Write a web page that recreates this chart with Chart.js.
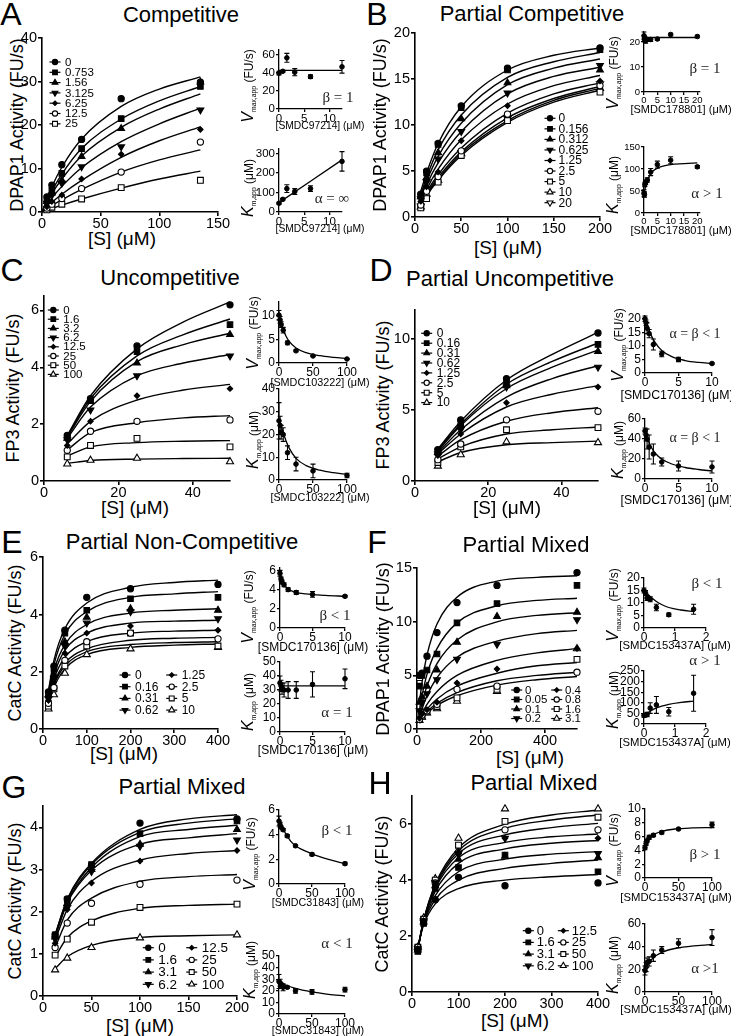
<!DOCTYPE html>
<html>
<head>
<meta charset="utf-8">
<script src="https://cdn.jsdelivr.net/npm/chart.js@4.4.0/dist/chart.umd.min.js"></script>
<style>
  body { margin: 0; background: #fff; }
  #fig { position: relative; width: 731px; height: 1036px; overflow: hidden; font-family: "Liberation Sans", Arial, sans-serif; color: #000; }
  .t { position: absolute; white-space: nowrap; transform: translate(-50%, -50%); line-height: 1; }
  .rot { transform: translate(-50%, -50%) rotate(-90deg); }
  .gk { font-family: "Liberation Serif", "Times New Roman", serif; color: #222; }
  sub { font-size: 6.8px; vertical-align: baseline; position: relative; top: 3px; }
  canvas { position: absolute; }
</style>
</head>
<body>
<div id="fig"></div>
<script>
// ---- data ----
// A: Competitive (DPAP1 / SMDC97214)
const A_S = [4.2, 8.4, 16.9, 33.75, 67.5, 135];
const A_INH = [0, 0.753, 1.56, 3.125, 6.25, 12.5, 25];
const A_Y = [
  [3.5, 6.2, 10.9, 16.7, 26.1, 29.9],
  [2.8, 5.0, 8.9, 14.6, 21.5, 28.9],
  [2.4, 4.4, 7.3, 12.8, 19.2, 29.9],
  [2.0, 3.9, 6.6, 10.4, 15.0, 23.5],
  [1.2, 2.4, 3.9, 7.6, 13.3, 19.0],
  [0.9, 1.8, 3.1, 5.4, 9.2, 16.1],
  [0.5, 1.1, 1.8, 3.0, 5.6, 7.3]
];
const A_FIT_S = [0, 8.4, 16.9, 33.75, 67.5, 100, 135];
const A_FIT = [
  [0, 5.8, 10.3, 16.8, 24.3, 28.3, 31.1],
  [0, 4.8, 8.7, 14.6, 21.4, 25.6, 28.9],
  [0, 4.2, 7.6, 12.9, 19.5, 23.7, 27.2],
  [0, 3.2, 5.9, 10.2, 16.2, 20.3, 23.9],
  [0, 2.2, 4.1, 7.3, 12.6, 16.4, 19.6],
  [0, 1.5, 2.8, 5.2, 9.2, 12.0, 14.3],
  [0, 0.8, 1.6, 3.0, 5.5, 7.6, 9.4]
];
const A_VMAX = [40, 42, 57, 41, 36, 47];
const A_VMAX_ERR = [2, 1, 5, 4, 2, 7];
const A_VMAX_FIT_X = [0, 12.5];
const A_VMAX_FIT = [43, 43];
const A_KM = [45, 65, 120, 105, 120, 260];
const A_KM_ERR = [5, 5, 20, 15, 15, 50];
const A_KM_FIT_X = [0, 12.5];
const A_KM_FIT = [48, 268];

// B: Partial Competitive (DPAP1 / SMDC178801)
const B_S = [6.25, 12.5, 25, 50, 100, 200];
const B_INH = [0, 0.156, 0.312, 0.625, 1.25, 2.5, 5, 10, 20];
const B_Y = [
  [2.5, 5.0, 8.0, 12.1, 16.2, 18.4],
  [2.3, 4.8, 7.9, 11.9, 16.0, 18.2],
  [2.2, 4.3, 7.0, 10.7, 14.6, 16.0],
  [2.0, 3.8, 6.3, 9.3, 13.5, 16.5],
  [1.7, 3.3, 4.9, 8.3, 12.1, 14.8],
  [1.3, 2.8, 4.4, 7.2, 11.2, 14.3],
  [1.0, 2.0, 3.8, 6.7, 10.5, 13.6],
  [1.1, 2.5, 4.0, 6.9, 10.8, 14.0],
  [1.2, 2.7, 4.2, 7.0, 10.7, 14.5]
];
const B_FIT_S = [6.25, 12.5, 25, 50, 100, 150, 200];
const B_FIT = [
  [2.8, 4.8, 8.0, 12.0, 16.0, 17.6, 18.4],
  [2.4, 4.3, 7.3, 11.1, 15.2, 16.9, 17.9],
  [2.2, 3.9, 6.6, 10.2, 14.4, 16.2, 17.2],
  [1.9, 3.5, 5.9, 9.3, 13.4, 15.3, 16.3],
  [1.6, 3.0, 5.2, 8.4, 12.3, 14.3, 15.4],
  [1.4, 2.7, 4.6, 7.5, 11.3, 13.4, 14.6],
  [1.3, 2.5, 4.3, 7.1, 10.8, 12.9, 14.2],
  [1.25, 2.4, 4.1, 6.9, 10.5, 12.7, 14.0],
  [1.2, 2.3, 4.0, 6.7, 10.3, 12.5, 13.8]
];
const B_VMAX = [22.5, 21.5, 21, 20.5, 21, 21, 21.2, 23, 22.2];
const B_VMAX_ERR = [1.5, 1, 1, 1, 0.8, 0.8, 0.5, 0.5, 0.5];
const B_VMAX_FIT_X = [0, 20];
const B_VMAX_FIT = [21.8, 21.8];
const B_KM = [45, 42, 65, 70, 75, 93, 110, 120, 105];
const B_KM_ERR = [8, 6, 5, 5, 5, 8, 8, 8, 3];
const B_KM_FIT_X = [0, 0.5, 1, 2, 3, 5, 7.5, 10, 15, 20];
const B_KM_FIT = [42, 58, 68, 84, 93, 102, 107, 110, 112, 114];

// C: Uncompetitive (FP3 / SMDC103222)
const C_S = [6.25, 12.5, 25, 50];
const C_INH = [0, 1.6, 3.2, 6.2, 12.5, 25, 50, 100];
const C_Y = [
  [1.6, 2.9, 4.75, 6.2],
  [1.55, 2.85, 4.55, 5.5],
  [1.5, 2.8, 4.15, 5.15],
  [1.45, 2.5, 3.7, 4.4],
  [1.25, 2.1, 3.0, 3.25],
  [1.08, 1.75, 2.1, 2.15],
  [0.85, 1.25, 1.5, 1.2],
  [0.6, 0.73, 0.8, 0.68]
];
const C_FIT_S = [6.25, 12.5, 25, 37.5, 50];
const C_FIT = [
  [1.6, 3.0, 4.65, 5.6, 6.3],
  [1.58, 2.9, 4.4, 5.15, 5.7],
  [1.55, 2.8, 4.2, 4.8, 5.2],
  [1.5, 2.6, 3.7, 4.15, 4.45],
  [1.3, 2.1, 2.85, 3.2, 3.4],
  [1.1, 1.7, 2.05, 2.22, 2.3],
  [0.88, 1.2, 1.35, 1.4, 1.42],
  [0.62, 0.72, 0.77, 0.79, 0.8]
];
const C_VMAX = [10.2, 9.2, 8.2, 7.0, 4.3, 2.6, 1.5, 0.85];
const C_VMAX_ERR = [1, 0.7, 0.6, 0.6, 0.4, 0.2, 0.1, 0.1];
const C_VMAX_FIT_X = [0, 3, 6, 10, 15, 25, 40, 60, 80, 100];
const C_VMAX_FIT = [10.4, 8.6, 7.2, 5.8, 4.6, 3.2, 2.2, 1.55, 1.2, 0.95];
const C_KM = [26, 24, 21, 20, 12, 7, 4, 2];
const C_KM_ERR = [8, 4, 3, 3, 3, 3, 3, 1];
const C_KM_FIT_X = [0, 3, 6, 10, 15, 25, 40, 60, 80, 100];
const C_KM_FIT = [27, 24, 21, 17.5, 14, 9.5, 6.3, 4.3, 3.2, 2.5];

// D: Partial Uncompetitive (FP3 / SMDC170136)
const D_S = [6.25, 12.5, 25, 50];
const D_INH = [0, 0.16, 0.31, 0.62, 1.25, 2.5, 5, 10];
const D_Y = [
  [2.2, 4.3, 7.2, 10.4],
  [2.1, 4.1, 6.9, 9.6],
  [2.0, 3.9, 6.7, 9.1],
  [1.9, 3.6, 6.6, 8.0],
  [1.8, 3.3, 5.5, 6.6],
  [1.5, 2.6, 4.3, 4.9],
  [1.3, 2.4, 3.6, 3.75],
  [1.05, 1.85, 2.75, 2.7]
];
const D_FIT_S = [6.25, 12.5, 25, 37.5, 50];
const D_FIT = [
  [2.25, 4.2, 7.1, 8.9, 10.45],
  [2.2, 4.0, 6.8, 8.4, 9.7],
  [2.1, 3.9, 6.5, 8.0, 9.2],
  [2.0, 3.6, 5.9, 7.2, 8.1],
  [1.9, 3.3, 5.2, 6.1, 6.7],
  [1.75, 2.9, 4.2, 4.8, 5.15],
  [1.55, 2.4, 3.3, 3.6, 3.8],
  [1.35, 2.0, 2.55, 2.7, 2.8]
];
const D_VMAX = [20, 18.5, 16.5, 14.5, 10.5, 7, 5, 3.5];
const D_VMAX_ERR = [1, 1, 2, 1.5, 2, 1, 0.8, 0.3];
const D_VMAX_FIT_X = [0, 0.5, 1, 1.5, 2.5, 4, 6, 8, 10];
const D_VMAX_FIT = [20.5, 16.5, 13.5, 11.3, 8.3, 6.0, 4.6, 3.9, 3.5];
const D_KM = [48, 44, 40, 32, 25, 17, 13, 12];
const D_KM_ERR = [3, 6, 10, 12, 10, 4, 5, 6];
const D_KM_FIT_X = [0, 0.5, 1, 1.5, 2.5, 4, 6, 8, 10];
const D_KM_FIT = [47, 38, 31, 26, 20, 15, 11.5, 9.5, 8];

// E: Partial Non-Competitive (CatC / SMDC170136)
const E_S = [12.5, 25, 50, 100, 200, 400];
const E_INH = [0, 0.16, 0.31, 0.62, 1.25, 2.5, 5, 10];
const E_Y = [
  [1.3, 2.2, 3.45, 4.6, 4.9, 5.05],
  [1.25, 2.1, 3.35, 4.15, 4.55, 4.6],
  [1.2, 1.9, 3.05, 3.9, 4.2, 4.15],
  [1.05, 1.75, 2.9, 3.7, 4.1, 3.85],
  [1.0, 1.65, 2.65, 3.35, 3.6, 3.45],
  [0.9, 1.45, 2.4, 3.05, 3.35, 3.15],
  [0.8, 1.4, 2.2, 2.9, 3.35, 2.9],
  [0.7, 1.2, 1.95, 2.6, 2.8, 2.85]
];
const E_FIT_S = [12.5, 25, 50, 100, 200, 300, 400];
const E_FIT = [
  [1.35, 2.4, 3.5, 4.4, 4.95, 5.12, 5.2],
  [1.3, 2.25, 3.3, 4.1, 4.6, 4.72, 4.8],
  [1.2, 2.05, 2.95, 3.65, 4.05, 4.15, 4.2],
  [1.1, 1.9, 2.75, 3.35, 3.7, 3.77, 3.8],
  [1.05, 1.75, 2.5, 3.05, 3.35, 3.42, 3.45],
  [0.95, 1.6, 2.3, 2.8, 3.1, 3.17, 3.2],
  [0.9, 1.55, 2.2, 2.7, 2.95, 3.02, 3.05],
  [0.85, 1.45, 2.1, 2.6, 2.85, 2.93, 2.97]
];
const E_VMAX = [5.7, 5.1, 4.8, 4.5, 4.0, 3.7, 3.5, 3.3];
const E_VMAX_ERR = [0.3, 0.2, 0.2, 0.2, 0.2, 0.2, 0.3, 0.1];
const E_VMAX_FIT_X = [0, 0.5, 1, 2, 4, 7, 10];
const E_VMAX_FIT = [5.8, 4.7, 4.2, 3.8, 3.55, 3.4, 3.3];
const E_KM = [35, 33, 31, 30, 30, 30, 34, 38];
const E_KM_ERR = [5, 4, 4, 5, 6, 6, 9, 7];
const E_KM_FIT_X = [0, 10];
const E_KM_FIT = [33, 33];

// F: Partial Mixed (DPAP1 / SMDC153437A)
const F_S = [7.8, 15.6, 31.25, 62.5, 125, 250, 500];
const F_INH = [0, 0.05, 0.1, 0.2, 0.4, 0.8, 1.6, 3.1];
const F_Y = [
  [5.0, 5.2, 6.8, 9.0, 11.8, 13.4, 14.6],
  [4.0, 5.0, 5.5, 7.0, 9.9, 11.7, 13.4],
  [2.5, 3.0, 4.0, 5.5, 8.1, 10.5, 10.9],
  [1.7, 2.5, 3.3, 4.6, 6.5, 7.9, 10.2],
  [1.0, 1.4, 1.8, 2.5, 4.3, 5.6, 7.5],
  [0.9, 1.3, 1.7, 2.3, 3.7, 4.0, 5.3],
  [4.8, 1.2, 1.6, 2.1, 2.9, 3.7, 6.5],
  [0.8, 1.1, 1.5, 1.9, 2.6, 3.5, 7.5]
];
const F_FIT_S = [7.8, 15.6, 31.25, 62.5, 125, 250, 375, 500];
const F_FIT = [
  [2.5, 4.3, 6.9, 9.8, 12.3, 13.8, 14.15, 14.3],
  [1.8, 3.1, 5.1, 7.5, 9.9, 11.5, 12.0, 12.2],
  [1.4, 2.4, 4.0, 6.1, 8.3, 10.0, 10.6, 10.85],
  [1.05, 1.85, 3.1, 4.8, 6.7, 8.2, 8.9, 9.2],
  [0.8, 1.4, 2.3, 3.5, 5.0, 6.4, 7.1, 7.5],
  [0.65, 1.15, 1.85, 2.8, 4.0, 5.2, 5.9, 6.2],
  [0.58, 1.0, 1.6, 2.4, 3.4, 4.5, 5.0, 5.3],
  [0.52, 0.9, 1.45, 2.2, 3.1, 4.1, 4.6, 4.9]
];
const F_VMAX = [15, 14, 12, 11.5, 8.2, 5.3, 7.5];
const F_VMAX_ERR = [1, 1, 1, 1, 1.3, 0.7, 2];
const F_VMAX_FIT_X = [0, 0.1, 0.2, 0.4, 0.6, 0.8, 1.2, 1.6];
const F_VMAX_FIT = [15.2, 13.8, 12.6, 10.6, 9.2, 8.2, 7.2, 6.6];
const F_KM = [40, 42, 45, 75, 90, 58, 145];
const F_KM_ERR = [8, 5, 10, 25, 40, 20, 85];
const F_KM_FIT_X = [0, 0.1, 0.2, 0.4, 0.8, 1.2, 1.6];
const F_KM_FIT = [38, 50, 60, 76, 93, 102, 108];

// G: Partial Mixed (CatC / SMDC31843)
const G_S = [12.5, 25, 50, 100, 200];
const G_INH = [0, 1.6, 3.1, 6.2, 12.5, 25, 50, 100];
const G_Y = [
  [1.45, 2.3, 3.1, 4.1, 4.2],
  [1.45, 2.28, 3.12, 3.85, 4.15],
  [1.4, 2.2, 3.0, 3.6, 3.95],
  [1.35, 2.1, 2.95, 3.55, 3.7],
  [1.25, 2.05, 2.68, 3.2, 3.45],
  [1.15, 1.73, 2.2, 2.65, 2.75],
  [0.97, 1.35, 1.75, 2.1, 2.18],
  [0.62, 0.9, 1.15, 1.38, 1.45]
];
const G_FIT_S = [12.5, 25, 50, 100, 150, 200];
const G_FIT = [
  [1.45, 2.3, 3.15, 3.95, 4.2, 4.3],
  [1.45, 2.28, 3.12, 3.88, 4.1, 4.2],
  [1.42, 2.23, 3.05, 3.78, 3.95, 4.05],
  [1.4, 2.2, 2.98, 3.6, 3.75, 3.85],
  [1.33, 2.05, 2.72, 3.22, 3.38, 3.45],
  [1.15, 1.8, 2.32, 2.72, 2.83, 2.88],
  [0.93, 1.38, 1.78, 2.08, 2.15, 2.18],
  [0.65, 0.93, 1.2, 1.39, 1.43, 1.45]
];
const G_VMAX = [5.1, 4.8, 4.6, 4.4, 3.9, 3.1, 2.4, 1.65];
const G_VMAX_ERR = [0.4, 0.2, 0.1, 0.1, 0.1, 0.1, 0.1, 0.1];
const G_VMAX_FIT_X = [0, 3, 7, 12.5, 18, 25, 50, 75, 100];
const G_VMAX_FIT = [5.1, 4.7, 4.35, 3.9, 3.45, 3.1, 2.45, 2.0, 1.65];
const G_KM = [28, 27, 25, 23, 23, 20, 19, 21];
const G_KM_ERR = [6, 3, 2, 3, 1, 2, 2, 2];
const G_KM_FIT_X = [0, 10, 25, 50, 75, 100];
const G_KM_FIT = [28, 25, 22, 19, 17, 15.5];

// H: Partial Mixed (CatC / SMDC153437A)
const H_S = [12.5, 25, 50, 100, 200, 400];
const H_INH = [0, 1.6, 3.1, 6.2, 12.5, 25, 50, 100];
const H_Y = [
  [1.5, 2.5, 3.3, 4.1, 3.8, 3.9],
  [1.45, 2.45, 3.7, 4.45, 4.9, 4.3],
  [1.5, 2.5, 3.8, 4.75, 4.85, 4.8],
  [1.55, 2.55, 3.9, 4.95, 5.5, 4.95],
  [1.55, 2.55, 3.85, 5.0, 5.5, 5.5],
  [1.6, 2.6, 3.9, 5.0, 5.8, 5.8],
  [1.6, 2.6, 4.0, 5.25, 6.1, 6.25],
  [1.6, 2.65, 4.05, 5.5, 6.55, 6.55]
];
const H_FIT_S = [12.5, 25, 50, 100, 200, 300, 400];
const H_FIT = [
  [1.6, 2.4, 3.15, 3.7, 4.0, 4.12, 4.2],
  [1.6, 2.45, 3.3, 4.0, 4.42, 4.6, 4.72],
  [1.58, 2.5, 3.45, 4.3, 4.75, 4.93, 5.02],
  [1.57, 2.55, 3.6, 4.6, 5.12, 5.32, 5.42],
  [1.55, 2.55, 3.7, 4.8, 5.35, 5.55, 5.65],
  [1.53, 2.55, 3.75, 4.95, 5.62, 5.88, 6.03],
  [1.5, 2.55, 3.8, 5.05, 5.85, 6.15, 6.33],
  [1.48, 2.55, 3.85, 5.15, 6.0, 6.33, 6.5]
];
const H_VMAX = [4.4, 5.0, 5.4, 5.9, 6.2, 6.6, 7.1, 7.7];
const H_VMAX_ERR = [0.3, 0.3, 0.2, 0.3, 0.2, 0.2, 0.1, 0.4];
const H_VMAX_FIT_X = [0, 3, 8, 15, 25, 45, 70, 100];
const H_VMAX_FIT = [4.4, 5.4, 6.0, 6.4, 6.75, 7.1, 7.25, 7.3];
const H_KM = [19, 22, 26, 27, 32, 37, 43, 48];
const H_KM_ERR = [4, 4, 4, 4, 5, 3, 4, 7];
const H_KM_FIT_X = [0, 5, 12, 25, 50, 100];
const H_KM_FIT = [19, 25, 30, 35, 39, 42];

// ---- drawing ----
const FONT = '"Liberation Sans", Arial, Helvetica, sans-serif';
Chart.defaults.font.family = FONT;
Chart.defaults.color = '#000';

// Prism-style symbol order: filled ones first, then open ones
const MARKERS = [
  { style: 'circle', fill: true, r: 3.1 },
  { style: 'rect', fill: true, r: 3.9 },
  { style: 'triangle', fill: true, r: 3.9 },
  { style: 'triangle', fill: true, r: 3.9, rot: 180 },
  { style: 'rectRot', fill: true, r: 2.7 },
  { style: 'circle', fill: false, r: 3.1 },
  { style: 'rect', fill: false, r: 4.1 },
  { style: 'triangle', fill: false, r: 4.1 },
  { style: 'triangle', fill: false, r: 4.1, rot: 180 },
];

const fig = document.getElementById('fig');

function label(x, y, html, size, cls) {
  const d = document.createElement('div');
  d.className = 't' + (cls ? ' ' + cls : '');
  d.style.left = x + 'px';
  d.style.top = y + 'px';
  d.style.fontSize = size + 'px';
  d.innerHTML = html;
  fig.appendChild(d);
}

function drawMarker(ctx, m, x, y, k) {
  const r = m.r * k;
  ctx.save();
  ctx.translate(x, y);
  if (m.rot) ctx.rotate(m.rot * Math.PI / 180);
  ctx.beginPath();
  if (m.style === 'circle') {
    ctx.arc(0, 0, r, 0, 2 * Math.PI);
  } else if (m.style === 'rect') {
    const s = r * Math.SQRT1_2;
    ctx.rect(-s, -s, 2 * s, 2 * s);
  } else if (m.style === 'rectRot') {
    ctx.moveTo(0, -r); ctx.lineTo(r, 0); ctx.lineTo(0, r); ctx.lineTo(-r, 0); ctx.closePath();
  } else {
    ctx.moveTo(0, -r); ctx.lineTo(r * 0.866, r * 0.5); ctx.lineTo(-r * 0.866, r * 0.5); ctx.closePath();
  }
  ctx.fillStyle = m.fill ? '#000' : '#fff';
  ctx.fill();
  ctx.lineWidth = 1.1;
  ctx.strokeStyle = '#000';
  ctx.stroke();
  ctx.restore();
}

// vertical SEM bars for the inset points
const errorBars = {
  id: 'errorBars',
  afterDatasetsDraw(chart) {
    const ctx = chart.ctx;
    const xs = chart.scales.x, ys = chart.scales.y;
    chart.data.datasets.forEach((ds) => {
      if (!ds.errors) return;
      ctx.save();
      ctx.strokeStyle = '#000';
      ctx.lineWidth = 1.1;
      ds.data.forEach((p, j) => {
        const e = ds.errors[j];
        if (!e) return;
        const px = xs.getPixelForValue(p.x);
        const y1 = ys.getPixelForValue(p.y - e);
        const y2 = ys.getPixelForValue(p.y + e);
        ctx.beginPath();
        ctx.moveTo(px, y1); ctx.lineTo(px, y2);
        ctx.moveTo(px - 2.5, y1); ctx.lineTo(px + 2.5, y1);
        ctx.moveTo(px - 2.5, y2); ctx.lineTo(px + 2.5, y2);
        ctx.stroke();
      });
      ctx.restore();
    });
  }
};

// legend drawn inside the plot area: line with the symbol on it, then the label
const symLegend = {
  id: 'symLegend',
  afterDraw(chart, args, o) {
    if (!o || !o.labels) return;
    const ctx = chart.ctx;
    ctx.save();
    ctx.font = o.fs + 'px ' + FONT;
    ctx.textBaseline = 'middle';
    o.labels.forEach((lab, i) => {
      const col = Math.floor(i / o.rows), row = i % o.rows;
      const sx = o.x + col * (o.colW || 0), sy = o.y + row * o.rowH;
      ctx.strokeStyle = '#000';
      ctx.lineWidth = 1.2;
      ctx.beginPath(); ctx.moveTo(sx - 5.5, sy); ctx.lineTo(sx + 5.5, sy); ctx.stroke();
      drawMarker(ctx, MARKERS[i], sx, sy, 0.85);
      ctx.fillStyle = '#000';
      ctx.fillText(lab, sx + o.gap, sy + 0.5);
    });
    ctx.restore();
  }
};

function scale(r, fs, tl, bw, fit) {
  return {
    type: 'linear', min: r[0], max: r[1],
    grid: { drawOnChartArea: false, drawTicks: true, tickLength: tl, color: '#000', lineWidth: bw },
    border: { color: '#000', width: bw },
    ticks: { stepSize: r[2], includeBounds: false, autoSkip: false, maxRotation: 0, padding: 1, color: '#000', font: { size: fs, family: FONT, lineHeight: 1 } },
    afterFit: fit,
  };
}

function plot(box, datasets, o) {
  const cl = box.L - o.padL, ct = box.T - o.padT;
  const cv = document.createElement('canvas');
  cv.width = box.R - box.L + o.padL + o.padR;
  cv.height = box.B - box.T + o.padT + o.padB;
  cv.style.left = cl + 'px';
  cv.style.top = ct + 'px';
  fig.appendChild(cv);
  const leg = o.legend ? Object.assign({}, o.legend, { x: o.legend.x - cl, y: o.legend.y - ct }) : {};
  return new Chart(cv, {
    type: 'scatter',
    data: { datasets },
    options: {
      responsive: false,
      animation: false,
      devicePixelRatio: 1,
      layout: { padding: { top: o.padT, right: o.padR, left: 0, bottom: 0 } },
      plugins: { legend: { display: false }, tooltip: { enabled: false }, symLegend: leg },
      scales: {
        x: scale(box.x, o.fs, o.tl, o.bw, (s) => { s.height = o.padB; }),
        y: scale(box.y, o.fs, o.tl, o.bw, (s) => { s.width = o.padL; }),
      },
    },
    plugins: [errorBars, symLegend],
  });
}

function kinetics(S, Y, FS, FIT) {
  const pts = Y.map((row, i) => {
    const m = MARKERS[i];
    return {
      data: row.map((y, j) => ({ x: S[j], y })),
      pointStyle: m.style, pointRadius: m.r, pointRotation: m.rot || 0,
      pointBackgroundColor: m.fill ? '#000' : '#fff', pointBorderColor: '#000', pointBorderWidth: 1.1,
      clip: false,
    };
  });
  const lines = FIT.map((row) => ({
    data: row.map((y, j) => ({ x: FS[j], y })),
    showLine: true, pointRadius: 0, borderColor: '#000', borderWidth: 1.4,
    cubicInterpolationMode: 'monotone', clip: false,
  }));
  return pts.concat(lines);
}

function replot(X, Y, E, FX, FY) {
  return [
    {
      data: Y.map((y, i) => ({ x: X[i], y })), errors: E,
      pointStyle: 'circle', pointRadius: 2.3, pointBackgroundColor: '#000', pointBorderColor: '#000',
      clip: false,
    },
    {
      data: FY.map((y, i) => ({ x: FX[i], y })),
      showLine: true, pointRadius: 0, borderColor: '#000', borderWidth: 1.3,
      cubicInterpolationMode: 'monotone', clip: false,
    },
  ];
}

const MAIN = { padL: 34, padB: 22, padT: 8, padR: 14, fs: 14.5, tl: 4, bw: 1.6 };
const INSET = { padL: 26, padB: 18, padT: 6, padR: 14, fs: 12, tl: 3, bw: 1.3 };
const VT = '<i style="font-size:16px">V</i><sub>max,app</sub> (FU/s)';
const KT = '<i style="font-size:16px">K</i><sub>m,app</sub> (μM)';

function panel(p) {
  label(p.letter[1], p.letter[2], p.letter[0], 32);
  label(p.title[1], p.title[2], p.title[0], 22);
  label(p.yt[1], p.yt[2], p.yt[0], 18, 'rot');
  label(p.xt[0], p.xt[1], '[S] (μM)', 19);
  plot(p.box, kinetics(p.S, p.Y, p.FS, p.FIT), Object.assign({}, MAIN, {
    legend: Object.assign({ labels: p.inh.map(String) }, p.legend),
  }));
  const insetOpt = Object.assign({}, INSET, { fs: p.ifs || 12 });
  plot(p.v.box, replot(p.inh, p.v.Y, p.v.E, p.v.FX, p.v.FY), insetOpt);
  plot(p.k.box, replot(p.inh, p.k.Y, p.k.E, p.k.FX, p.k.FY), insetOpt);
  label(p.v.yt[0], p.v.yt[1], VT, 12, 'rot');
  label(p.k.yt[0], p.k.yt[1], KT, 12, 'rot');
  label(p.v.xt[0], p.v.xt[1], p.cmpd + ' (μM)', p.xfs);
  label(p.k.xt[0], p.k.xt[1], p.cmpd + ' (μM)', p.xfs);
  if (p.v.note) label(p.v.note[1], p.v.note[2], p.v.note[0], p.nfs || 15, 'gk');
  if (p.k.note) label(p.k.note[1], p.k.note[2], p.k.note[0], p.nfs || 15, 'gk');
}

panel({
  letter: ['A', 11, 14], title: ['Competitive', 181, 15],
  yt: ['DPAP1 Activity (FU/s)', 17, 125], xt: [122, 238],
  box: { L: 42, T: 38, R: 218, B: 212, x: [0, 150, 50], y: [0, 40, 10] },
  S: A_S, Y: A_Y, FS: A_FIT_S, FIT: A_FIT, inh: A_INH,
  legend: { x: 55, y: 62, rowH: 10.3, rows: 7, gap: 10, fs: 11.5 },
  cmpd: '[SMDC97214]', xfs: 10.3, ifs: 11.5,
  v: { box: { L: 279, T: 49, R: 342, B: 109, x: [0, 12.5, 5], y: [0, 66, 20] },
       Y: A_VMAX, E: A_VMAX_ERR, FX: A_VMAX_FIT_X, FY: A_VMAX_FIT,
       yt: [248, 86], xt: [320, 126], note: ['β = 1', 338, 97] },
  k: { box: { L: 279, T: 148, R: 342, B: 212, x: [0, 12.5, 5], y: [0, 325, 100] },
       Y: A_KM, E: A_KM_ERR, FX: A_KM_FIT_X, FY: A_KM_FIT,
       yt: [248, 188], xt: [320, 229], note: ['α = ∞', 332, 198] },
});

panel({
  letter: ['B', 377, 14], title: ['Partial Competitive', 532, 14],
  yt: ['DPAP1 Activity (FU/s)', 380, 125], xt: [508, 247],
  box: { L: 415, T: 33, R: 600, B: 217, x: [0, 200, 50], y: [0, 20, 5] },
  S: B_S, Y: B_Y, FS: B_FIT_S, FIT: B_FIT, inh: B_INH,
  legend: { x: 550, y: 118.3, rowH: 10.55, rows: 9, gap: 8.5, fs: 12 },
  cmpd: '[SMDC178801]', xfs: 11, ifs: 9.5,
  v: { box: { L: 644, T: 32, R: 700, B: 92, x: [0, 21, 5], y: [0, 24, 10] },
       Y: B_VMAX, E: B_VMAX_ERR, FX: B_VMAX_FIT_X, FY: B_VMAX_FIT,
       yt: [613, 73], xt: [681, 109], note: ['β = 1', 705, 68] },
  k: { box: { L: 644, T: 147, R: 700, B: 213, x: [0, 21, 5], y: [0, 150, 50] },
       Y: B_KM, E: B_KM_ERR, FX: B_KM_FIT_X, FY: B_KM_FIT,
       yt: [613, 185], xt: [681, 230], note: ['α > 1', 707, 193] },
});

panel({
  letter: ['C', 12, 270], title: ['Uncompetitive', 170, 278],
  yt: ['FP3 Activity (FU/s)', 13, 388], xt: [135, 507],
  box: { L: 44, T: 296, R: 230, B: 481, x: [0, 50, 20], y: [0, 6.5, 2] },
  S: C_S, Y: C_Y, FS: C_FIT_S, FIT: C_FIT, inh: C_INH,
  legend: { x: 53.3, y: 310, rowH: 9.2, rows: 8, gap: 10, fs: 11.5 },
  cmpd: '[SMDC103222]', xfs: 10.8,
  v: { box: { L: 279, T: 301, R: 347, B: 363, x: [0, 100, 50], y: [0, 13, 5] },
       Y: C_VMAX, E: C_VMAX_ERR, FX: C_VMAX_FIT_X, FY: C_VMAX_FIT,
       yt: [253, 333], xt: [320, 382] },
  k: { box: { L: 279, T: 388, R: 347, B: 480, x: [0, 100, 50], y: [0, 40, 10] },
       Y: C_KM, E: C_KM_ERR, FX: C_KM_FIT_X, FY: C_KM_FIT,
       yt: [253, 440], xt: [320, 497] },
});

panel({
  letter: ['D', 381, 270], title: ['Partial Uncompetitive', 510, 279],
  yt: ['FP3 Activity (FU/s)', 383, 395], xt: [507, 507],
  box: { L: 415, T: 310, R: 598, B: 481, x: [0, 50, 20], y: [0, 12, 5] },
  S: D_S, Y: D_Y, FS: D_FIT_S, FIT: D_FIT, inh: D_INH,
  legend: { x: 426.7, y: 333.3, rowH: 9.9, rows: 8, gap: 10, fs: 12 },
  cmpd: '[SMDC170136]', xfs: 12.3, nfs: 14,
  v: { box: { L: 645, T: 315, R: 712, B: 373, x: [0, 10, 5], y: [0, 21, 5] },
       Y: D_VMAX, E: D_VMAX_ERR, FX: D_VMAX_FIT_X, FY: D_VMAX_FIT,
       yt: [618, 345], xt: [677, 395], note: ['α = β &lt; 1', 695, 334] },
  k: { box: { L: 645, T: 418, R: 712, B: 479, x: [0, 10, 5], y: [0, 60, 20] },
       Y: D_KM, E: D_KM_ERR, FX: D_KM_FIT_X, FY: D_KM_FIT,
       yt: [618, 450], xt: [677, 500], note: ['α = β &lt; 1', 695, 438] },
});

panel({
  letter: ['E', 12, 542], title: ['Partial Non-Competitive', 182, 542],
  yt: ['CatC Activity (FU/s)', 15, 643], xt: [124, 753],
  box: { L: 43, T: 557, R: 218, B: 729, x: [0, 400, 100], y: [0, 6, 2] },
  S: E_S, Y: E_Y, FS: E_FIT_S, FIT: E_FIT, inh: E_INH,
  legend: { x: 125, y: 675, rowH: 11.7, rows: 4, colW: 46.7, gap: 10, fs: 12 },
  cmpd: '[SMDC170136]', xfs: 12,
  v: { box: { L: 280, T: 567, R: 345, B: 628, x: [0, 10, 5], y: [0, 6.25, 2] },
       Y: E_VMAX, E: E_VMAX_ERR, FX: E_VMAX_FIT_X, FY: E_VMAX_FIT,
       yt: [248, 607], xt: [313, 647], note: ['β &lt; 1', 335, 615] },
  k: { box: { L: 280, T: 661, R: 345, B: 732, x: [0, 10, 5], y: [0, 50, 10] },
       Y: E_KM, E: E_KM_ERR, FX: E_KM_FIT_X, FY: E_KM_FIT,
       yt: [248, 702], xt: [313, 750], note: ['α = 1', 337, 712] },
});

panel({
  letter: ['F', 377, 542], title: ['Partial Mixed', 526, 545],
  yt: ['DPAP1 Activity (FU/s)', 383, 649], xt: [530, 757],
  box: { L: 417, T: 568, R: 577, B: 729, x: [0, 500, 200], y: [0, 15, 5] },
  S: F_S, Y: F_Y, FS: F_FIT_S, FIT: F_FIT, inh: F_INH,
  legend: { x: 516.7, y: 690, rowH: 9.5, rows: 4, colW: 40, gap: 8.3, fs: 11.5 },
  cmpd: '[SMDC153437A]', xfs: 11.3,
  v: { box: { L: 644, T: 577, R: 706, B: 628, x: [0, 2, 1], y: [0, 20, 5] },
       Y: F_VMAX, E: F_VMAX_ERR, FX: F_VMAX_FIT_X, FY: F_VMAX_FIT,
       yt: [613, 605], xt: [675, 646], note: ['β &lt; 1', 707, 583] },
  k: { box: { L: 644, T: 670, R: 706, B: 724, x: [0, 2, 1], y: [0, 250, 50] },
       Y: F_KM, E: F_KM_ERR, FX: F_KM_FIT_X, FY: F_KM_FIT,
       yt: [613, 700], xt: [675, 743], note: ['α > 1', 705, 660] },
});

panel({
  letter: ['G', 14, 787], title: ['Partial Mixed', 182, 787],
  yt: ['CatC Activity (FU/s)', 15, 901], xt: [140, 1025],
  box: { L: 43, T: 806, R: 237, B: 996, x: [0, 200, 50], y: [0, 4.5, 1] },
  S: G_S, Y: G_Y, FS: G_FIT_S, FIT: G_FIT, inh: G_INH,
  legend: { x: 148.3, y: 947.7, rowH: 12.2, rows: 4, colW: 43.4, gap: 10, fs: 13.5 },
  cmpd: '[SMDC31843]', xfs: 10.7,
  v: { box: { L: 279, T: 809, R: 345, B: 884, x: [0, 100, 50], y: [0, 6, 2] },
       Y: G_VMAX, E: G_VMAX_ERR, FX: G_VMAX_FIT_X, FY: G_VMAX_FIT,
       yt: [250, 854], xt: [318, 902], note: ['β &lt; 1', 337, 830] },
  k: { box: { L: 279, T: 955, R: 345, B: 1014, x: [0, 100, 50], y: [0, 50, 10] },
       Y: G_KM, E: G_KM_ERR, FX: G_KM_FIT_X, FY: G_KM_FIT,
       yt: [250, 970], xt: [318, 1030], note: ['α &lt; 1', 337, 943] },
});

panel({
  letter: ['H', 380, 783], title: ['Partial Mixed', 534, 783],
  yt: ['CatC Activity (FU/s)', 382, 894], xt: [515, 1020],
  box: { L: 412, T: 796, R: 598, B: 992, x: [0, 400, 100], y: [0, 7, 2] },
  S: H_S, Y: H_Y, FS: H_FIT_S, FIT: H_FIT, inh: H_INH,
  legend: { x: 528.3, y: 930.7, rowH: 11.7, rows: 4, colW: 35, gap: 8.4, fs: 13 },
  cmpd: '[SMDC153437A]', xfs: 11.3,
  v: { box: { L: 645, T: 808, R: 712, B: 878, x: [0, 100, 50], y: [0, 10, 2] },
       Y: H_VMAX, E: H_VMAX_ERR, FX: H_VMAX_FIT_X, FY: H_VMAX_FIT,
       yt: [613, 850], xt: [676, 898], note: ['β > 1', 705, 854] },
  k: { box: { L: 645, T: 923, R: 712, B: 992, x: [0, 100, 50], y: [0, 60, 20] },
       Y: H_KM, E: H_KM_ERR, FX: H_KM_FIT_X, FY: H_KM_FIT,
       yt: [613, 965], xt: [676, 1010], note: ['α >1', 705, 968] },
});
</script>
</body>
</html>
